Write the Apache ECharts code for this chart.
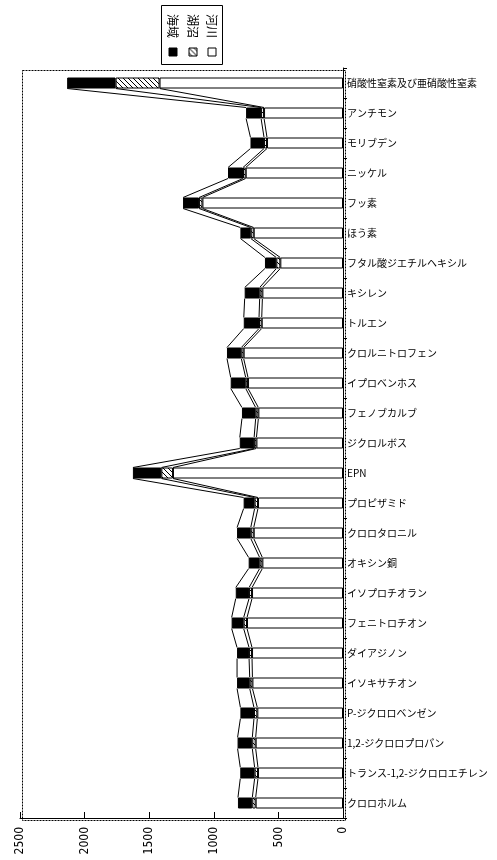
<!DOCTYPE html>
<html>
<head>
<meta charset="utf-8">
<script src="https://cdn.jsdelivr.net/npm/echarts@6/dist/echarts.min.js"></script>
<style>
  html, body { margin: 0; padding: 0; background: #fff; }
  #main { width: 497px; height: 860px; }
</style>
</head>
<body>
<div id="main"></div>
<script>
// 項目名（上から順）
var categories = [
    '硝酸性窒素及び亜硝酸性窒素', 'アンチモン', 'モリブデン', 'ニッケル', 'フッ素',
    'ほう素', 'フタル酸ジエチルヘキシル', 'キシレン', 'トルエン', 'クロルニトロフェン',
    'イプロベンホス', 'フェノブカルブ', 'ジクロルボス', 'EPN', 'プロピザミド',
    'クロロタロニル', 'オキシン銅', 'イソプロチオラン', 'フェニトロチオン', 'ダイアジノン',
    'イソキサチオン', 'P-ジクロロベンゼン', '1,2-ジクロロプロパン', 'トランス-1,2-ジクロロエチレン', 'クロロホルム'
];
// 河川
var riverValues = [1420, 611, 588, 753, 1088, 691, 485, 624, 629, 769, 735, 655, 670, 1316, 658, 691, 624, 704, 743, 704, 701, 663, 676, 658, 676];
// 湖沼
var lakeValues = [340, 23, 23, 21, 26, 23, 31, 21, 21, 18, 18, 21, 18, 90, 26, 23, 21, 23, 26, 23, 21, 26, 26, 26, 26];
// 海域
var seaValues = [375, 116, 105, 116, 124, 80, 88, 116, 118, 111, 116, 106, 111, 220, 85, 106, 85, 103, 93, 93, 98, 105, 114, 111, 111];
var xTicks = [0, 500, 1000, 1500, 2000, 2500];

var FONT = '"Noto Sans CJK JP", "Noto Sans", sans-serif';
var BAR_W = 11;

// 斜線パターン
function hatch() {
    var c = document.createElement('canvas');
    c.width = 5; c.height = 5;
    var g = c.getContext('2d');
    g.fillStyle = '#fff';
    g.fillRect(0, 0, 5, 5);
    g.strokeStyle = '#000';
    g.lineWidth = 1;
    g.beginPath();
    g.moveTo(-1, -1); g.lineTo(6, 6);
    g.moveTo(-1, 4); g.lineTo(1, 6);
    g.moveTo(4, -1); g.lineTo(6, 1);
    g.stroke();
    return c;
}
var hatchPattern = { image: hatch(), repeat: 'repeat' };

// 区分線用の累積値
var cum1 = [], cum2 = [], cum3 = [];
for (var i = 0; i < categories.length; i++) {
    cum1.push(riverValues[i]);
    cum2.push(riverValues[i] + lakeValues[i]);
    cum3.push(riverValues[i] + lakeValues[i] + seaValues[i]);
}
var linkData = [];
for (var i = 0; i < categories.length - 1; i++) {
    linkData.push([i, cum1[i], cum1[i + 1], cum2[i], cum2[i + 1], cum3[i], cum3[i + 1]]);
}

var chart = echarts.init(document.getElementById('main'));

function legendText(x, s) {
    return {
        type: 'text', x: x, y: 20.5, rotation: -Math.PI / 2,
        style: { text: s, fontSize: 12, fontFamily: FONT, fill: '#000', align: 'center', verticalAlign: 'middle' }
    };
}

var option = {
    animation: false,
    backgroundColor: '#fff',
    grid: { left: 20, right: 154, top: 68, bottom: 42 },
    xAxis: {
        type: 'value',
        inverse: true,
        min: xTicks[0],
        max: xTicks[xTicks.length - 1],
        interval: xTicks[1] - xTicks[0],
        axisLine: { show: true, lineStyle: { color: '#000', width: 1 } },
        axisTick: { show: true, inside: true, length: 6, lineStyle: { color: '#000' } },
        splitLine: { show: false },
        axisLabel: {
            rotate: 90,
            margin: 9,
            color: '#000',
            fontSize: 12,
            fontFamily: '"Liberation Sans Narrow", "DejaVu Sans Condensed", sans-serif',
            formatter: function (v) { return String(v); }
        }
    },
    yAxis: {
        type: 'category',
        inverse: true,
        position: 'right',
        data: categories,
        axisLine: { show: true, lineStyle: { color: '#000', width: 1 } },
        axisTick: { show: true, length: 4, lineStyle: { color: '#000' } },
        axisLabel: { margin: 4, color: '#000', fontSize: 10, fontFamily: FONT },
        splitLine: { show: false }
    },
    graphic: [
        // プロット領域の破線枠
        {
            type: 'rect', left: 20, top: 68, z: -1,
            shape: { width: 323, height: 750 },
            style: { fill: 'none', stroke: '#000', lineWidth: 1, lineDash: [2, 1] }
        },
        // 凡例
        {
            type: 'group', left: 161, top: 5,
            children: [
                { type: 'rect', shape: { x: 0, y: 0, width: 61, height: 59 }, style: { fill: '#fff', stroke: '#000', lineWidth: 1 } },
                legendText(11.5, '海域'),
                legendText(31.5, '湖沼'),
                legendText(50.5, '河川'),
                { type: 'rect', shape: { x: 7.5, y: 42.5, width: 8, height: 8 }, style: { fill: '#000', stroke: '#000' } },
                { type: 'rect', shape: { x: 27.5, y: 42.5, width: 8, height: 8 }, style: { fill: hatchPattern, stroke: '#000' } },
                { type: 'rect', shape: { x: 46.5, y: 42.5, width: 8, height: 8 }, style: { fill: '#fff', stroke: '#000' } }
            ]
        }
    ],
    series: [
        {
            name: '河川', type: 'bar', stack: 'total', barWidth: BAR_W,
            itemStyle: { color: '#fff', borderColor: '#000', borderWidth: 1 },
            data: riverValues
        },
        {
            name: '湖沼', type: 'bar', stack: 'total', barWidth: BAR_W,
            itemStyle: { color: hatchPattern, borderColor: '#000', borderWidth: 1 },
            data: lakeValues
        },
        {
            name: '海域', type: 'bar', stack: 'total', barWidth: BAR_W,
            itemStyle: { color: '#000', borderColor: '#000', borderWidth: 1 },
            data: seaValues
        },
        {
            // 区分線（隣り合う棒の境界を結ぶ）
            name: 'links', type: 'custom', silent: true,
            encode: { x: [1, 2, 3, 4, 5, 6], y: 0 },
            renderItem: function (params, api) {
                var idx = api.value(0);
                var half = BAR_W / 2;
                var lines = [];
                for (var k = 0; k < 3; k++) {
                    var p1 = api.coord([api.value(1 + 2 * k), idx]);
                    var p2 = api.coord([api.value(2 + 2 * k), idx + 1]);
                    lines.push({
                        type: 'line',
                        shape: { x1: p1[0], y1: p1[1] + half, x2: p2[0], y2: p2[1] - half },
                        style: { stroke: '#000', lineWidth: 1 }
                    });
                }
                return { type: 'group', children: lines };
            },
            data: linkData
        }
    ]
};
chart.setOption(option);
</script>
</body>
</html>
